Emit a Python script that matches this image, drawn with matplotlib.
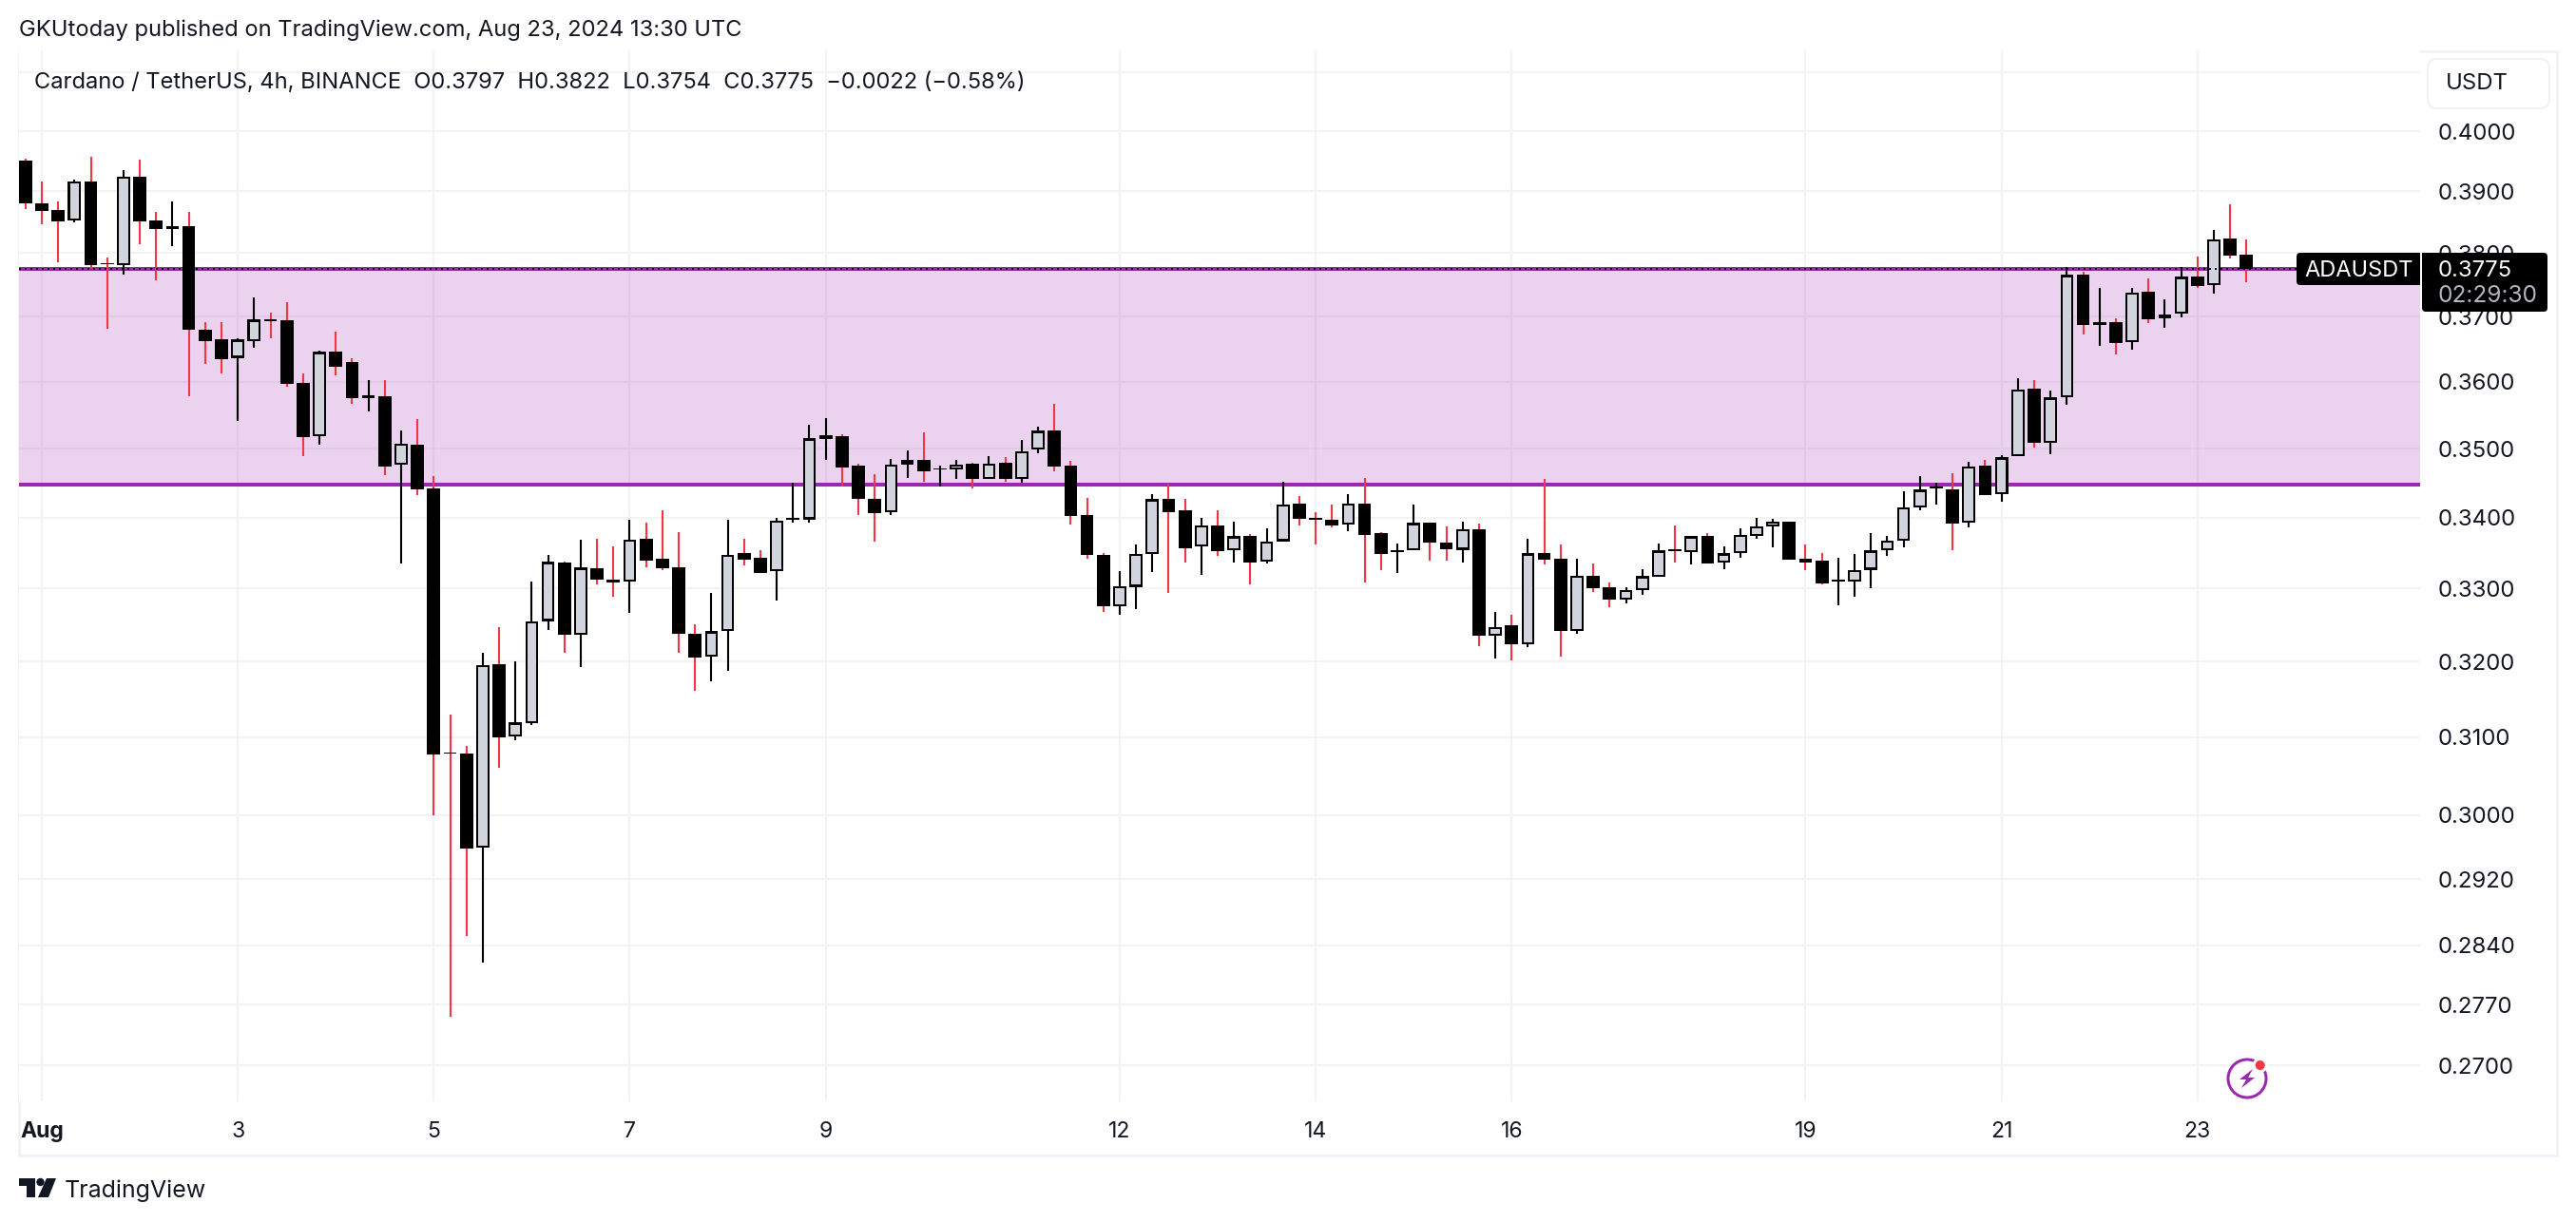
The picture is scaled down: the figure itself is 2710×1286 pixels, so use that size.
import numpy as np
import matplotlib
matplotlib.use("Agg")
import matplotlib.pyplot as plt
from matplotlib.patches import Rectangle, FancyBboxPatch, Circle, Polygon
from matplotlib.ticker import FixedLocator, NullLocator, FixedFormatter

W, H = 2710, 1286

bar_index = list(range(-1, 136))
opens = [.3951,.3881,.3870,.3852,.3916,.3784,.3781,.3924,.3853,.3838,.3844,.3680,.3664,.3636,.3662,.3695,.3694,.3598,.3518,.3645,
 .3630,.3575,.3578,.3476,.3506,.3442,.3080,.3079,.2959,.3196,.3101,.3118,.3255,.3336,.3236,.3328,.3312,.3309,.3370,.3342,
 .3329,.3238,.3206,.3241,.3350,.3343,.3324,.3397,.3397,.3514,.3518,.3475,.3427,.3407,.3477,.3483,.3469,.3469,.3478,.3455,
 .3479,.3455,.3498,.3527,.3475,.3403,.3347,.3275,.3302,.3348,.3427,.3410,.3359,.3389,.3353,.3374,.3337,.3366,.3420,.3399,
 .3397,.3390,.3420,.3377,.3351,.3353,.3393,.3364,.3354,.3383,.3235,.3249,.3223,.3350,.3342,.3241,.3317,.3301,.3284,.3297,
 .3316,.3355,.3351,.3374,.3336,.3349,.3373,.3387,.3394,.3342,.3339,.3310,.3309,.3326,.3353,.3367,.3414,.3442,.3441,.3392,
 .3475,.3433,.3489,.3589,.3508,.3576,.3766,.3687,.3691,.3660,.3738,.3697,.3704,.3763,.3749,.3824,.3797]
highs = [.3954,.3916,.3884,.3919,.3957,.3793,.3935,.3953,.3867,.3884,.3866,.3691,.3691,.3666,.3729,.3706,.3723,.3612,.3647,.3676,
 .3636,.3602,.3602,.3527,.3543,.3460,.3129,.3088,.3212,.3247,.3200,.3309,.3347,.3337,.3368,.3370,.3359,.3396,.3393,.3410,
 .3379,.3251,.3294,.3396,.3370,.3353,.3399,.3450,.3535,.3545,.3521,.3478,.3463,.3485,.3497,.3524,.3475,.3483,.3479,.3489,
 .3488,.3513,.3533,.3567,.3482,.3428,.3350,.3324,.3362,.3434,.3448,.3426,.3399,.3410,.3394,.3376,.3385,.3452,.3431,.3407,
 .3419,.3434,.3457,.3379,.3363,.3418,.3393,.3387,.3394,.3391,.3268,.3264,.3370,.3456,.3362,.3342,.3335,.3308,.3301,.3327,
 .3363,.3389,.3373,.3377,.3359,.3385,.3399,.3398,.3394,.3362,.3350,.3343,.3348,.3378,.3373,.3437,.3460,.3450,.3464,.3481,
 .3483,.3490,.3605,.3602,.3587,.3778,.3770,.3744,.3697,.3744,.3759,.3727,.3777,.3795,.3837,.3879,.3822]
lows = [.3871,.3847,.3786,.3850,.3775,.3681,.3766,.3814,.3756,.3811,.3578,.3627,.3612,.3541,.3651,.3666,.3592,.3489,.3506,.3610,
 .3566,.3555,.3461,.3335,.3432,.3000,.2756,.2851,.2819,.3060,.3096,.3115,.3243,.3212,.3193,.3305,.3288,.3266,.3330,.3326,
 .3212,.3161,.3174,.3187,.3332,.3321,.3283,.3392,.3393,.3483,.3445,.3403,.3366,.3403,.3457,.3452,.3445,.3456,.3442,.3455,
 .3452,.3450,.3493,.3467,.3390,.3342,.3268,.3264,.3271,.3323,.3294,.3336,.3319,.3345,.3336,.3305,.3335,.3366,.3388,.3362,
 .3386,.3381,.3308,.3326,.3321,.3353,.3339,.3339,.3336,.3221,.3204,.3201,.3219,.3334,.3207,.3238,.3295,.3274,.3279,.3291,
 .3316,.3336,.3334,.3335,.3327,.3343,.3370,.3358,.3340,.3326,.3305,.3276,.3288,.3300,.3346,.3358,.3410,.3419,.3353,.3386,
 .3432,.3423,.3489,.3501,.3492,.3565,.3672,.3655,.3642,.3648,.3689,.3682,.3698,.3744,.3736,.3792,.3754]
closes = [.3881,.3868,.3851,.3916,.3781,.3782,.3924,.3851,.3839,.3844,.3680,.3662,.3634,.3664,.3695,.3693,.3596,.3517,.3645,.3623,
 .3575,.3579,.3474,.3507,.3441,.3077,.3078,.2958,.3195,.3100,.3119,.3255,.3337,.3236,.3329,.3312,.3308,.3368,.3339,.3328,
 .3238,.3205,.3241,.3347,.3340,.3321,.3395,.3399,.3515,.3520,.3472,.3426,.3406,.3477,.3483,.3467,.3471,.3477,.3456,.3478,
 .3456,.3496,.3526,.3474,.3402,.3347,.3275,.3303,.3348,.3426,.3408,.3356,.3389,.3352,.3373,.3336,.3366,.3419,.3398,.3396,
 .3389,.3420,.3375,.3348,.3354,.3392,.3364,.3355,.3383,.3235,.3247,.3223,.3349,.3340,.3242,.3318,.3300,.3284,.3298,.3317,
 .3353,.3352,.3373,.3335,.3349,.3375,.3387,.3394,.3340,.3336,.3307,.3312,.3326,.3353,.3367,.3414,.3440,.3444,.3391,.3474,
 .3432,.3487,.3588,.3509,.3576,.3765,.3687,.3691,.3659,.3737,.3696,.3703,.3762,.3748,.3822,.3796,.3775]

zone_top = 0.3775
zone_bottom = 0.34476
last_price = 0.3775

price_ticks = [.41,.40,.39,.38,.37,.36,.35,.34,.33,.32,.31,.30,.292,.284,.277,.27]
price_labels = ["","0.4000","0.3900","0.3800","0.3700","0.3600","0.3500","0.3400","0.3300","0.3200",
                "0.3100","0.3000","0.2920","0.2840","0.2770","0.2700"]
date_ticks = [0,12,24,36,48,66,78,90,108,120,132]
date_labels = ["Aug","3","5","7","9","12","14","16","19","21","23"]

TXT = "#131722"; RED = "#F23645"; GREY = "#D1D4DC"; PURPLE = "#9C27B0"; GRID = "#F3F3F4"; FRAME = "#F0F0F6"

plt.rcParams["font.family"] = ["Inter", "DejaVu Sans"]
fig = plt.figure(figsize=(W/100, H/100), dpi=100, facecolor="white")

def fx(px): return px / W
def fy(py): return 1 - py / H
def pt(px): return px * 0.72

# plot area
L, R, T, B = 20, 2546, 53, 1159
ax = fig.add_axes([fx(L), fy(B), (R-L)/W, (B-T)/H])
ax.set_yscale("log")
ax.set_xlim(-1.397, 145.63)
ax.set_ylim(0.26594, 0.41383)
for s in ax.spines.values():
    s.set_visible(False)
ax.yaxis.tick_right()
ax.yaxis.set_major_locator(FixedLocator(price_ticks))
ax.yaxis.set_major_formatter(FixedFormatter(price_labels))
ax.yaxis.set_minor_locator(NullLocator())
ax.xaxis.set_major_locator(FixedLocator(date_ticks))
ax.xaxis.set_major_formatter(FixedFormatter(date_labels))
ax.tick_params(axis="y", length=0, pad=pt(19), labelsize=pt(24), labelcolor=TXT)
ax.tick_params(axis="x", length=0, pad=pt(21), labelsize=pt(23), labelcolor=TXT)
ax.get_xticklabels()[0].set_fontweight("bold")
ax.grid(True, color=GRID, linewidth=pt(2.2), zorder=0)
ax.set_axisbelow(True)

# zone
ax.axhspan(zone_bottom, zone_top, facecolor=PURPLE, alpha=0.2, linewidth=0, zorder=1)
ax.axhline(zone_top, color=PURPLE, linewidth=pt(4), zorder=1.5, solid_capstyle="butt")
ax.axhline(zone_bottom, color=PURPLE, linewidth=pt(4), zorder=1.5, solid_capstyle="butt")

# candles
x = np.array(bar_index, float)
o, h, l, c = map(np.array, (opens, highs, lows, closes))
up = c >= o
wick = [("black" if u else RED) for u in up]
ax.vlines(x, l, h, colors=wick, linewidth=pt(2.1), zorder=2)
top, bot = np.maximum(o, c), np.minimum(o, c)
ax.bar(x, top-bot, bottom=bot, width=0.80, color="black", linewidth=0, zorder=3)
inset = 1.0009
ib, it = o*inset, c/inset
mask = up & (it > ib)
ax.bar(x[mask], (it-ib)[mask], bottom=ib[mask], width=0.56, color=GREY, linewidth=0, zorder=3.1)

# last price line
ax.axhline(last_price, color="black", linewidth=pt(2), linestyle=(0, (1, 2)), zorder=4)

# figure decorations in pixel positions
def rect(x0, y0, x1, y1, **kw):
    p = Rectangle((fx(x0), fy(y1)), (x1-x0)/W, (y1-y0)/H, transform=fig.transFigure, **kw)
    fig.add_artist(p); return p

rect(20, 53.5, 2690, 1216, fill=False, edgecolor=FRAME, linewidth=pt(2.6), zorder=0)

pix = fig.add_axes([0, 0, 1, 1], facecolor="none", zorder=10)
pix.set_xlim(0, W); pix.set_ylim(H, 0); pix.axis("off")

def rbox(x0, y0, x1, y1, r, **kw):
    p = FancyBboxPatch((x0+r, y0+r), x1-x0-2*r, y1-y0-2*r, boxstyle=f"round,pad={r},rounding_size={r}", **kw)
    pix.add_patch(p); return p

rbox(2554, 62, 2682, 114, 10, facecolor="white", edgecolor=FRAME, linewidth=pt(2))
pix.text(2573, 88, "USDT", fontsize=pt(24), color=TXT, va="center", ha="left")

# price tags
rbox(2416, 266, 2560, 300, 4, facecolor="black", edgecolor="none", zorder=5)
pix.add_patch(Rectangle((2546, 262), 2, 70, facecolor="white", edgecolor="none", zorder=6))
rbox(2548, 266, 2680, 328, 4, facecolor="black", edgecolor="none", zorder=7)
pix.text(2424, 285, "ADAUSDT", fontsize=pt(23.6), color="white", va="center", ha="left", zorder=8)
pix.text(2565, 285, "0.3775", fontsize=pt(24), color="white", va="center", ha="left", zorder=8)
pix.text(2565, 312, "02:29:30", fontsize=pt(24.4), color="#B2B5BE", va="center", ha="left", zorder=8)

# header and legend
pix.text(20, 32, "GKUtoday published on TradingView.com, Aug 23, 2024 13:30 UTC", fontsize=pt(23.7), color=TXT,
         va="center", ha="left")
pix.text(36, 87, "Cardano / TetherUS, 4h, BINANCE  O0.3797  H0.3822  L0.3754  C0.3775  \u22120.0022 (\u22120.58%)",
         fontsize=pt(23.66), color=TXT, va="center", ha="left")

# TradingView logo
pix.add_patch(Polygon([(20,1240),(37,1240),(37,1260),(28,1260),(28,1248),(20,1248)], closed=True, facecolor=TXT, edgecolor="none"))
pix.add_patch(Circle((42.5,1244), 4.2, facecolor=TXT, edgecolor="none"))
pix.add_patch(Polygon([(49,1240),(59,1240),(51,1260),(40,1260)], closed=True, facecolor=TXT, edgecolor="none"))
pix.text(68, 1253, "TradingView", fontsize=pt(25), color=TXT, va="center", ha="left")

# lightning icon
ix, iy = 2364, 1135
pix.add_patch(Circle((ix, iy), 22.5, facecolor="white", edgecolor="none"))
pix.add_patch(Circle((ix, iy), 20, facecolor="none", edgecolor=PURPLE, linewidth=pt(3)))
pix.add_patch(Polygon([(ix+6,iy-10),(ix-8,iy+1),(ix-1,iy+1),(ix-6,iy+10),(ix+8,iy-1),(ix+1,iy-1)], closed=True,
                      facecolor=PURPLE, edgecolor="none"))
pix.add_patch(Circle((2377.7, 1121), 8, facecolor="white", edgecolor="none"))
pix.add_patch(Circle((2377.7, 1121), 5, facecolor=RED, edgecolor="none"))

fig.savefig("out.png", dpi=100, facecolor="white")
